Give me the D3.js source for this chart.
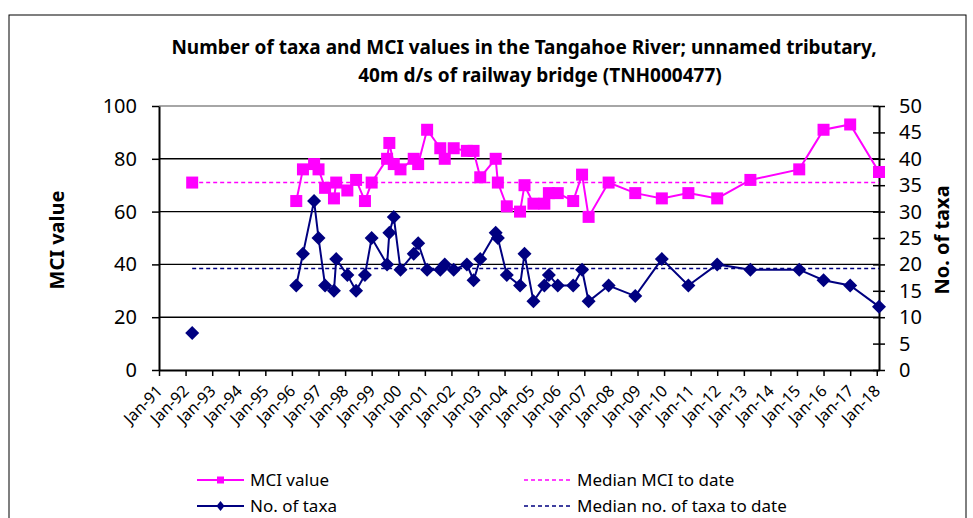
<!DOCTYPE html>
<html>
<head>
<meta charset="utf-8">
<script src="https://cdn.jsdelivr.net/npm/d3@7"></script>
<style>
  body { margin: 0; background: #fff; }
  text { font-family: "Noto Sans", sans-serif; }
</style>
</head>
<body>
<svg id="chart" width="973" height="518"></svg>
<script>
// sample dates (year-month) and values
let sample_dates = ["1992-04","1996-03","1996-06","1996-11","1997-01","1997-04","1997-08","1997-09",
    "1998-02","1998-06","1998-10","1999-01","1999-08","1999-09","1999-11","2000-02","2000-08","2000-10",
    "2001-02","2001-08","2001-10","2002-02","2002-08","2002-11","2003-02","2003-09","2003-10","2004-02",
    "2004-08","2004-10","2005-02","2005-07","2005-09","2006-01","2006-08","2006-12","2007-03","2007-12",
    "2008-12","2009-12","2010-12","2012-01","2013-04","2015-02","2016-01","2017-01","2018-02"];
let mci_values = [71,64,76,78,76,69,65,71,68,72,64,71,80,86,78,76,80,78,91,84,80,84,83,83,73,80,71,62,
    60,70,63,63,67,67,64,74,58,71,67,65,67,65,72,76,91,93,75];
let taxa_values = [7,16,22,32,25,16,15,21,18,15,18,25,20,26,29,19,22,24,19,19,20,19,20,17,21,26,25,18,
    16,22,13,16,18,16,16,19,13,16,14,21,16,20,19,19,17,16,12];
let median_mci = 71;
let median_taxa = 19.2;
let left_ticks = [0,20,40,60,80,100];
let right_ticks = [0,5,10,15,20,25,30,35,40,45,50];
let year_ticks = d3.range(1991, 2019);

let parse = d3.timeParse("%Y-%m");
let data = sample_dates.map(function(d, i){
    return { date: parse(d), mci: mci_values[i], taxa: taxa_values[i] };
});

let svg = d3.select("#chart");
let p_left = 159, p_right = 879, p_top = 106, p_bottom = 370;
let pink = "#ff00ff", navy = "#000080";

let x = d3.scaleTime()
    .domain([new Date(1991, 0, 1), data[data.length - 1].date])
    .range([p_left, p_right]);
let y_mci = d3.scaleLinear().domain([0, 100]).range([p_bottom, p_top]);
let y_taxa = d3.scaleLinear().domain([0, 50]).range([p_bottom, p_top]);

// outer frame
svg.append("rect")
    .attr("x", 9).attr("y", 15).attr("width", 957).attr("height", 520)
    .attr("fill", "none").attr("stroke", "#000").attr("stroke-width", 1);

// title
let title = svg.append("text")
    .attr("text-anchor", "middle")
    .attr("font-weight", "bold")
    .attr("font-size", 19);
title.append("tspan").attr("x", 524).attr("y", 54)
    .text("Number of taxa and MCI values in the Tangahoe River; unnamed tributary,");
title.append("tspan").attr("x", 540).attr("y", 82)
    .text("40m d/s of railway bridge (TNH000477)");

// gridlines
svg.append("g")
    .selectAll("line")
    .data(left_ticks.filter(function(d){ return d > 0; }))
    .enter().append("line")
        .attr("x1", p_left).attr("x2", p_right)
        .attr("y1", function(d){ return y_mci(d); })
        .attr("y2", function(d){ return y_mci(d); })
        .attr("stroke", function(d){ return d == 100 ? "#888" : "#000"; })
        .attr("stroke-width", 1.4);

// axes
let x_axis = svg.append("g")
    .attr("transform", "translate(0," + p_bottom + ")")
    .call(d3.axisBottom(x)
        .tickValues(year_ticks.map(function(yr){ return new Date(yr, 0, 1); }))
        .tickFormat(d3.timeFormat("Jan-%y"))
        .tickSize(6).tickSizeOuter(0));
x_axis.selectAll("text")
    .attr("font-size", 16)
    .attr("text-anchor", "end")
    .attr("x", 0).attr("y", 0).attr("dy", null)
    .attr("transform", "translate(4,22) rotate(-45)");

let yl_axis = svg.append("g")
    .attr("transform", "translate(" + p_left + ",0)")
    .call(d3.axisLeft(y_mci).tickValues(left_ticks).tickSize(7).tickSizeOuter(0).tickPadding(15));
yl_axis.selectAll("text").attr("font-size", 20);

let yr_axis = svg.append("g")
    .attr("transform", "translate(" + p_right + ",0)")
    .call(d3.axisRight(y_taxa).tickValues(right_ticks).tickSize(6).tickSizeOuter(0).tickPadding(14));
yr_axis.selectAll("text").attr("font-size", 20);
yr_axis.selectAll(".tick line").attr("x1", -6);

[x_axis, yl_axis, yr_axis].forEach(function(ax){
    ax.select(".domain").attr("stroke", "#000").attr("stroke-width", 2);
    ax.selectAll(".tick line").attr("stroke", "#000").attr("stroke-width", 1.5);
    ax.selectAll("text").attr("fill", "#000").attr("font-family", "Noto Sans, sans-serif");
});

// axis titles
svg.append("text")
    .attr("transform", "translate(64,240) rotate(-90)")
    .attr("text-anchor", "middle").attr("font-size", 20).attr("font-weight", "bold")
    .text("MCI value");
svg.append("text")
    .attr("transform", "translate(949,240) rotate(-90)")
    .attr("text-anchor", "middle").attr("font-size", 20).attr("font-weight", "bold")
    .text("No. of taxa");

// median lines
let ends = [data[0].date, data[data.length - 1].date];
svg.append("line")
    .attr("x1", x(ends[0])).attr("x2", x(ends[1]))
    .attr("y1", y_mci(median_mci)).attr("y2", y_mci(median_mci))
    .attr("stroke", pink).attr("stroke-width", 1.5).attr("stroke-dasharray", "4,3");
svg.append("line")
    .attr("x1", x(ends[0])).attr("x2", x(ends[1]))
    .attr("y1", y_taxa(median_taxa)).attr("y2", y_taxa(median_taxa))
    .attr("stroke", navy).attr("stroke-width", 1.5).attr("stroke-dasharray", "4,3");

// series lines (the first sample is not joined to the rest)
let rest = data.slice(1);
let mci_line = d3.line().x(function(d){ return x(d.date); }).y(function(d){ return y_mci(d.mci); });
let taxa_line = d3.line().x(function(d){ return x(d.date); }).y(function(d){ return y_taxa(d.taxa); });

svg.append("path").datum(rest)
    .attr("d", mci_line).attr("fill", "none").attr("stroke", pink).attr("stroke-width", 2);
svg.append("path").datum(rest)
    .attr("d", taxa_line).attr("fill", "none").attr("stroke", navy).attr("stroke-width", 2);

// markers
let sq = 12;
svg.append("g").selectAll("rect")
    .data(data)
    .enter().append("rect")
        .attr("x", function(d){ return x(d.date) - sq / 2; })
        .attr("y", function(d){ return y_mci(d.mci) - sq / 2; })
        .attr("width", sq).attr("height", sq)
        .attr("fill", pink);

let dm = 7;
svg.append("g").selectAll("path")
    .data(data)
    .enter().append("path")
        .attr("d", "M0," + (-dm) + "L" + dm + ",0L0," + dm + "L" + (-dm) + ",0Z")
        .attr("transform", function(d){ return "translate(" + x(d.date) + "," + y_taxa(d.taxa) + ")"; })
        .attr("fill", navy);

// legend
let legend = svg.append("g");
let leg_rows = [
    { label: "MCI value", color: pink, dash: null, marker: "square", lx: 197, ly: 480 },
    { label: "No. of taxa", color: navy, dash: null, marker: "diamond", lx: 197, ly: 506 },
    { label: "Median MCI to date", color: pink, dash: "4,3", marker: null, lx: 524, ly: 480 },
    { label: "Median no. of taxa to date", color: navy, dash: "4,3", marker: null, lx: 524, ly: 506 }
];
leg_rows.forEach(function(r){
    legend.append("line")
        .attr("x1", r.lx).attr("x2", r.lx + 47)
        .attr("y1", r.ly).attr("y2", r.ly)
        .attr("stroke", r.color).attr("stroke-width", r.dash ? 1.5 : 2)
        .attr("stroke-dasharray", r.dash);
    if (r.marker == "square") {
        legend.append("rect").attr("x", r.lx + 20).attr("y", r.ly - 3.5)
            .attr("width", 7).attr("height", 7).attr("fill", r.color);
    } else if (r.marker == "diamond") {
        legend.append("path")
            .attr("d", "M0,-5L4,0L0,5L-4,0Z")
            .attr("transform", "translate(" + (r.lx + 23.5) + "," + r.ly + ")")
            .attr("fill", r.color);
    }
    legend.append("text")
        .attr("x", r.lx + 53).attr("y", r.ly + 6)
        .attr("font-size", 17)
        .text(r.label);
});
</script>
</body>
</html>
